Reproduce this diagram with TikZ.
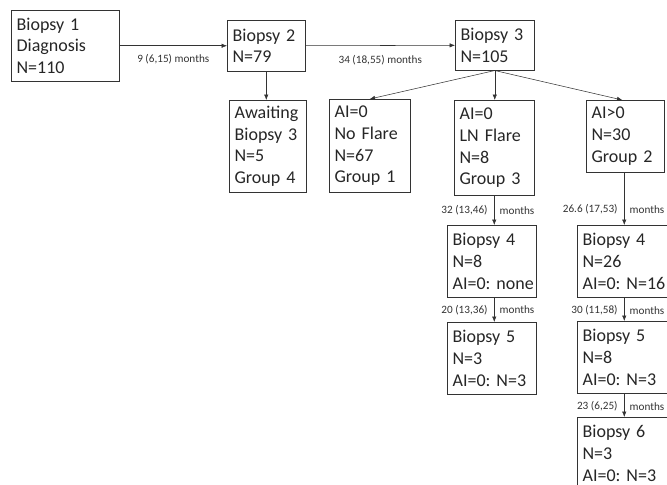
\documentclass[tikz,border=0pt]{standalone}
\usepackage{fontspec}
\setmainfont{Carlito}
\frenchspacing
\usetikzlibrary{arrows.meta}

\tikzset{
  box/.style={draw=black!80, thin, anchor=north west, align=left, inner xsep=4pt,
    font=\fontsize{13.5}{16.3}\selectfont, text=black!85},
  link/.style={draw=black!80, thin, -{Latex[length=4pt,width=3.2pt]}},
  gap/.style={font=\fontsize{8.4}{9}\selectfont, text=black!80}
}

\begin{document}
\begin{tikzpicture}[x=0.75pt, y=-0.75pt]
        \clip (0,0) rectangle (667,485);

        % first row
        \node[box, text width=73pt, minimum height=53.25pt] (b1) at (11,10) {Biopsy~1\\Diagnosis\\N=110};
        \node[box, text width=50.5pt, minimum height=38.25pt] (b2) at (227,20) {Biopsy~2\\N=79};
        \node[box, text width=51.25pt, minimum height=37.5pt] (b3) at (455,20) {Biopsy~3\\N=105};

        % groups
        \node[box, text width=49.75pt, minimum height=69pt] (wait) at (229,100) {Awaiting\\Biopsy~3\\N=5\\Group~4};
        \node[box, text width=52.75pt, minimum height=69.75pt] (nofl) at (329,99) {AI=0\\No~Flare\\N=67\\Group~1};
        \node[box, text width=52pt, minimum height=71.25pt] (lnfl) at (454,100) {AI=0\\LN~Flare\\N=8\\Group~3};
        \node[box, text width=50.5pt, minimum height=54pt] (aipos) at (586,100) {AI>0\\N=30\\Group~2};

        % follow-up biopsies
        \node[box, text width=58.75pt, minimum height=54pt] (b4a) at (447,225) {Biopsy~4\\N=8\\AI=0:~none};
        \node[box, text width=58.75pt, minimum height=54pt] (b5a) at (447,322) {Biopsy~5\\N=3\\AI=0:~N=3};
        \node[box, text width=63.25pt, minimum height=54pt] (b4b) at (577,225) {Biopsy~4\\N=26\\AI=0:~N=16};
        \node[box, text width=63.25pt, minimum height=54pt] (b5b) at (577,321) {Biopsy~5\\N=8\\AI=0:~N=3};
        \node[box, text width=63.25pt, minimum height=54pt] (b6) at (577,417) {Biopsy~6\\N=3\\AI=0:~N=3};

        \draw[link] (b1) -- node[gap, below=2.5pt] {9 (6,15) months} (b2);
        \draw[link] (b2) -- node[gap, below=4pt] {34 (18,55) months} (b3);

        \draw[link] (b2.south) -- (b2.south |- wait.north);
        \draw[link] (b3.south) -- (nofl.north);
        \draw[link] (b3.south) -- (b3.south |- lnfl.north);
        \draw[link] (b3.south) -- ([xshift=-2.25pt]aipos.north);

        \draw[link] (lnfl.south) -- node[pos=0.5, gap, left=1.5pt] {32 (13,46)} node[pos=0.5, gap, right=0.5pt] {months} (lnfl.south |- b4a.north);
        \draw[link] ([xshift=-0.75pt]aipos.south) -- node[pos=0.7, gap, left=1.5pt] {26.6 (17,53)} node[pos=0.7, gap, right=0.5pt] {months} ([xshift=-0.75pt]aipos.south |- b4b.north);
        \draw[link] (lnfl.south |- b4a.south) -- node[pos=0.5, gap, left=1.5pt] {20 (13,36)} node[pos=0.5, gap, right=0.5pt] {months} (lnfl.south |- b5a.north);
        \draw[link] ([xshift=-0.75pt]aipos.south |- b4b.south) -- node[pos=0.55, gap, left=1.5pt] {30 (11,58)} node[pos=0.55, gap, right=0.5pt] {months} ([xshift=-0.75pt]aipos.south |- b5b.north);
        \draw[link] ([xshift=-0.75pt]aipos.south |- b5b.south) -- node[pos=0.55, gap, left=1.5pt] {23 (6,25)} node[pos=0.55, gap, right=0.5pt] {months} ([xshift=-0.75pt]aipos.south |- b6.north);
\end{tikzpicture}
\end{document}
